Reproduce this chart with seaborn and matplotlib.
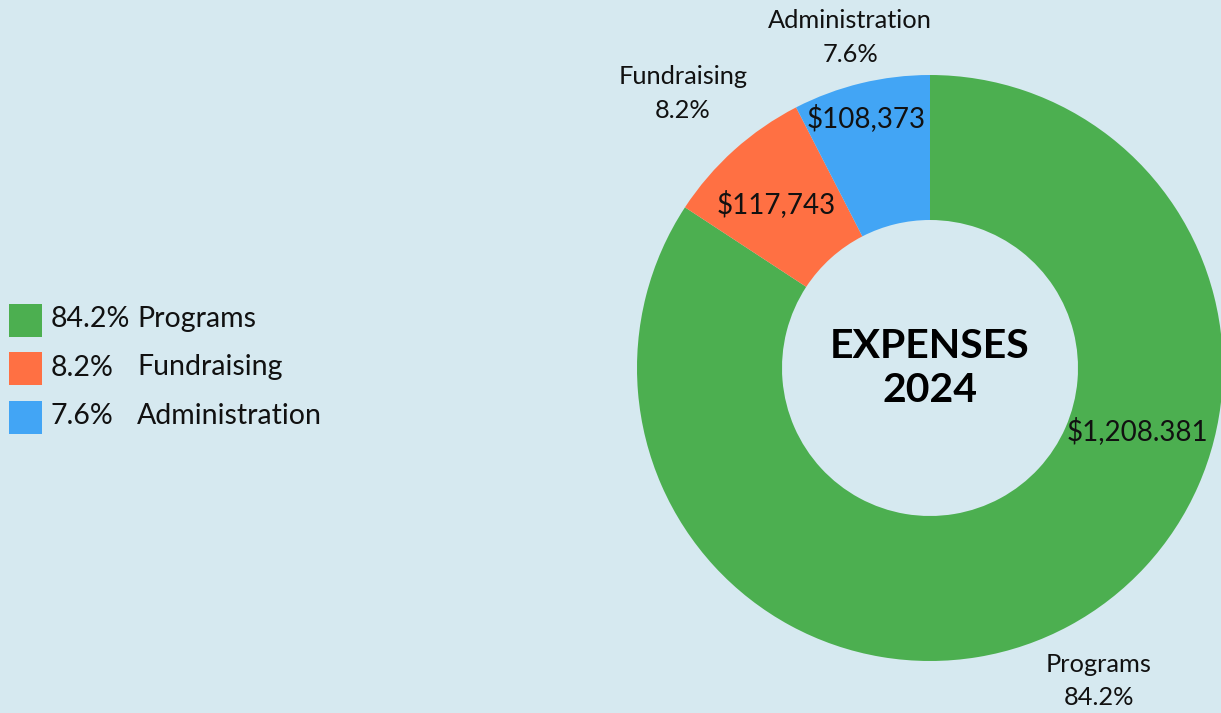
"""
Expenses 2024 donut chart
"""

import numpy as np
import matplotlib

matplotlib.use("Agg")
import matplotlib.pyplot as plt
from matplotlib.patches import Rectangle
import seaborn as sns

# data
categories = ["Programs", "Fundraising", "Administration"]
amounts = [1208381, 117743, 108373]
amount_labels = ["$1,208.381", "$117,743", "$108,373"]
pct_labels = ["84.2%", "8.2%", "7.6%"]

# styling
colors = ["#4caf50", "#ff7043", "#42a5f5"]
bg = "#d6e9f0"
outer_dist = [1.214, 1.26, 1.16]
inner_dist = [0.741, 0.768, 0.88]
inner_shift = [44.8, 1.3, 0.8]

sns.set_theme(style="white")
plt.rcParams["font.family"] = ["Lato", "DejaVu Sans"]

W, H = 1221, 713
fig = plt.figure(figsize=(W / 100, H / 100), dpi=100)
fig.patch.set_facecolor(bg)

# pie axes, radius 1 == 293 px, centered at (930, 368) from top
R = 293
cx, cy = 930, H - 368
half = 1.3 * R
ax = fig.add_axes([(cx - half) / W, (cy - half) / H, 2 * half / W, 2 * half / H])
ax.set_facecolor("none")

wedges, _ = ax.pie(
    amounts,
    colors=colors,
    startangle=90,
    counterclock=False,
    radius=1,
    wedgeprops=dict(width=1 - 148 / R, linewidth=0),
)
ax.set_xlim(-1.3, 1.3)
ax.set_ylim(-1.3, 1.3)
ax.set_aspect("equal")
ax.axis("off")

for i, w in enumerate(wedges):
    mid = np.deg2rad((w.theta1 + w.theta2) / 2)
    ax.text(
        outer_dist[i] * np.cos(mid),
        outer_dist[i] * np.sin(mid),
        f"{categories[i]}\n{pct_labels[i]}",
        ha="center",
        va="center",
        multialignment="center",
        fontsize=18.3,
        linespacing=1.55,
        color="#111111",
    )
    ang = mid + np.deg2rad(inner_shift[i])
    ax.text(
        inner_dist[i] * np.cos(ang),
        inner_dist[i] * np.sin(ang),
        amount_labels[i],
        ha="center",
        va="center",
        fontsize=20,
        color="#111111",
    )

ax.text(
    0, -0.002, "EXPENSES\n2024",
    ha="center", va="center", fontsize=29.5, fontweight="bold",
    linespacing=1.25, color="#000000",
)

# legend drawn in pixel coords
leg = fig.add_axes([0, 0, 1, 1], zorder=-1)
leg.set_xlim(0, W)
leg.set_ylim(H, 0)
leg.set_facecolor("none")
leg.axis("off")
for i, name in enumerate(categories):
    yc = 320 + 48.5 * i
    leg.add_patch(Rectangle((9, yc - 16.5), 33, 33, color=colors[i], lw=0))
    leg.text(51, yc - 1, pct_labels[i], ha="left", va="center", fontsize=20.5, color="#111111")
    leg.text(137, yc - 1, name, ha="left", va="center", fontsize=20.5, color="#111111")

fig.savefig("out.png", dpi=100, facecolor=bg)
